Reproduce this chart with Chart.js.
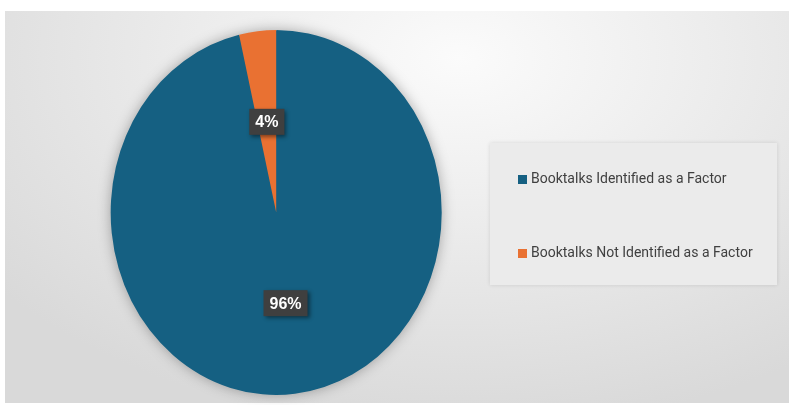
<!DOCTYPE html>
<html>
<head>
<meta charset="utf-8">
<script src="https://cdn.jsdelivr.net/npm/chart.js@4"></script>
<style>
  html, body { margin: 0; padding: 0; background: #fff; }
  #wrap { position: relative; width: 789px; height: 405px; overflow: hidden; }
  #panel {
    position: absolute; left: 5px; top: 11px; right: 0; bottom: 2px;
    background: radial-gradient(ellipse 75% 95% at 58% 12%, #fbfbfb 0%, #ececec 45%, #d9d9d9 100%);
  }
  #chart { position: absolute; left: 0; top: 0; }
  #legendBox {
    position: absolute; left: 490px; top: 143px; width: 287px; height: 142px;
    background: #ebebeb; box-shadow: 0 0 4px rgba(0,0,0,0.12);
  }
  .lg-item {
    position: absolute; left: 28px; height: 16px;
    font: 14px Roboto, "Liberation Sans", sans-serif; color: #404040; white-space: nowrap;
  }
  .lg-item i { position: absolute; left: 0; top: 3px; width: 9px; height: 9px; }
  .lg-item span { position: absolute; left: 13px; top: -2px; }
</style>
</head>
<body>
<div id="wrap">
  <div id="panel"></div>
  <canvas id="chart" width="789" height="405"></canvas>
  <div id="legendBox"></div>
</div>
<script>
  // datos del grafico
  const categorias = ['Booktalks Identified as a Factor', 'Booktalks Not Identified as a Factor'];
  const valores = [96.4, 3.6];
  const colores = ['#156082', '#E97132'];

  // el pie original esta estirado en vertical
  const ESCALA_X = 0.907;

  const elipse = {
    id: 'elipse',
    beforeDatasetsDraw(chart) {
      const arc = chart.getDatasetMeta(0).data[0];
      const ctx = chart.ctx;
      ctx.save();
      ctx.translate(arc.x, arc.y);
      ctx.scale(ESCALA_X, 1);
      ctx.translate(-arc.x, -arc.y);
      // sombra suave debajo del pie
      ctx.save();
      ctx.shadowColor = 'rgba(0,0,0,0.35)';
      ctx.shadowBlur = 14;
      ctx.beginPath();
      ctx.arc(arc.x, arc.y, arc.outerRadius - 1, 0, Math.PI * 2);
      ctx.fillStyle = colores[0];
      ctx.fill();
      ctx.restore();
    },
    afterDatasetsDraw(chart) {
      chart.ctx.restore();
    }
  };

  const etiquetas = {
    id: 'etiquetas',
    afterDraw(chart) {
      const ctx = chart.ctx;
      const meta = chart.getDatasetMeta(0);
      ctx.save();
      ctx.font = 'bold 16px "Liberation Sans", Arial, sans-serif';
      ctx.textAlign = 'center';
      ctx.textBaseline = 'middle';
      meta.data.forEach((arc, i) => {
        const p = arc.tooltipPosition();
        const x = arc.x + (p.x - arc.x) * ESCALA_X;
        const y = p.y;
        const txt = Math.round(valores[i]) + '%';
        const w = ctx.measureText(txt).width + 12;
        const h = 26;
        ctx.save();
        ctx.shadowColor = 'rgba(0,0,0,0.45)';
        ctx.shadowBlur = 4;
        ctx.shadowOffsetX = 2;
        ctx.shadowOffsetY = 2;
        ctx.fillStyle = '#3f3f3f';
        ctx.fillRect(x - w / 2, y - h / 2, w, h);
        ctx.restore();
        ctx.fillStyle = '#ffffff';
        ctx.fillText(txt, x, y + 1);
      });
      ctx.restore();
    }
  };

  const chart = new Chart(document.getElementById('chart'), {
    type: 'pie',
    data: {
      labels: categorias,
      datasets: [{
        data: valores,
        backgroundColor: colores,
        borderWidth: 0,
        hoverOffset: 0,
        offset: 0
      }]
    },
    options: {
      responsive: false,
      animation: false,
      events: [],
      layout: { padding: { left: 93.7, top: 30, right: 330.3, bottom: 10 } },
      plugins: {
        legend: { display: false },
        tooltip: { enabled: false }
      }
    },
    plugins: [elipse, etiquetas]
  });

  // leyenda en HTML
  const box = document.getElementById('legendBox');
  const tops = [29, 103];
  categorias.forEach((c, i) => {
    const d = document.createElement('div');
    d.className = 'lg-item';
    d.style.top = tops[i] + 'px';
    d.innerHTML = '<i style="background:' + colores[i] + '"></i><span>' + c + '</span>';
    box.appendChild(d);
  });
</script>
</body>
</html>
